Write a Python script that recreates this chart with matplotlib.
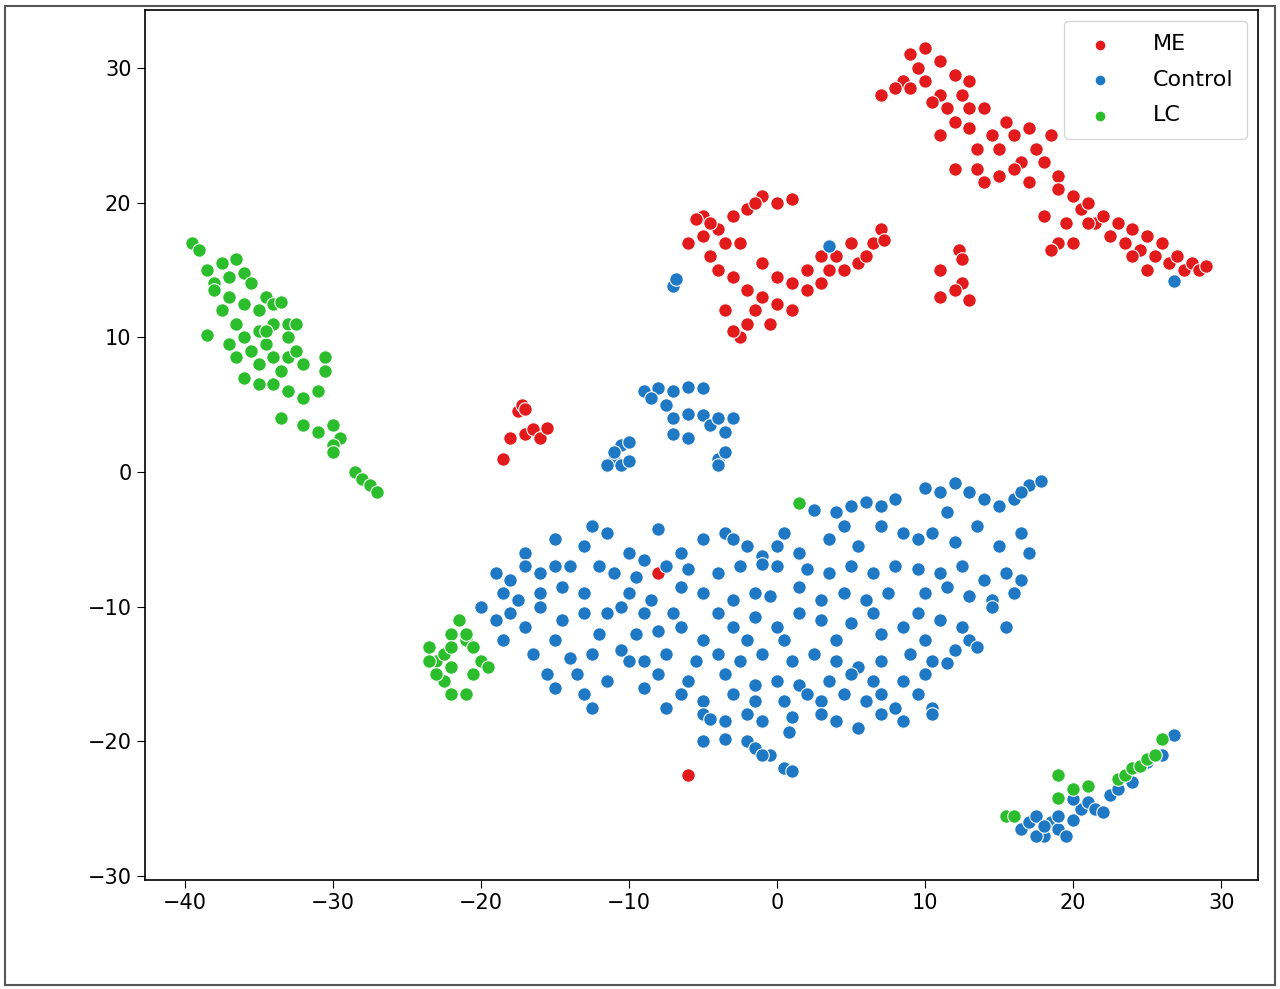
import matplotlib.pyplot as plt
import numpy as np

# cluster points, per group
me_pts = [
    (9,31),(10,31.5),(11,30.5),(9.5,30),(8.5,29),(7,28),(8,28.5),(10,29),(11,28),(12,29.5),(12.5,28),(13,27),
    (11.5,27),(12,26),(13,25.5),(14,27),(14.5,25),(13.5,24),(15,24),(15.5,26),(16,25),(16.5,23),(17,25.5),
    (17.5,24),(18,23),(18.5,25),(19,22),(16,22.5),(15,22),(14,21.5),(12,22.5),(17,21.5),(19,21),(20,20.5),
    (20.5,19.5),(21,20),(21.5,18.5),(22,19),(22.5,17.5),(23,18.5),(23.5,17),(24,18),(24.5,16.5),(25,17.5),
    (25.5,16),(26,17),(26.5,15.5),(27,16),(27.5,15),(28,15.5),(28.5,15),(29,15.3),(25,15),(24,16),(11,25),
    (10.5,27.5),(13,29),(9,28.5),(18,19),(19,17),(20,17),(18.5,16.5),(21,18.5),(19.5,18.5),(13.5,22.5),
    (-6,17),(-5,19),(-4,18),(-3,19),(-4.5,16),(-5,17.5),(-3.5,17),(-4,15),(-3,14.5),(-2,19.5),(-1,20.5),
    (0,20),(1,20.3),(-1.5,20),(-2.5,17),(-1,15.5),(0,14.5),(-2,13.5),(-1,13),(0,12.5),(-2,11),(-2.5,10),
    (-3,10.5),(-3.5,12),(-1.5,12),(-0.5,11),(1,12),(1,14),(2,15),(3,14),(3.5,15),(4,16),(5,17),(5.5,15.5),
    (6,16),(6.5,17),(7,18),(7.2,17.2),(4.5,15),(3,16),(2,13.5),(11,15),(12.3,16.5),(12.5,14),(11,13),
    (12,13.5),(13,12.8),(12.5,15.8),(-4.5,18.5),(-5.5,18.8),
    (-18.5,1),(-18,2.5),(-17.5,4.5),(-17.2,5),(-17,2.8),(-16.5,3.2),(-16,2.5),(-15.5,3.3),(-17,4.7),
    (-8,-7.5),(-6,-22.5),(18.5,16.5),
]

control_pts = [
    (-9,6),(-8,6.2),(-7,6),(-6,6.3),(-5,6.2),(-8.5,5.5),(-7.5,5),(-7,4),(-6,4.3),(-5,4.2),(-4.5,3.5),(-4,4),
    (-3.5,3),(-3,4),(-7,2.8),(-6,2.5),(-4,1),(-3.5,1.5),(-4,0.5),(-11,1),(-10.5,2),(-10,2.2),(-11.5,0.5),
    (-10.5,0.5),(-10,0.8),(-11,1.5),(-7,13.8),(-6.8,14.3),(3.5,16.8),(26.8,14.2),
    (16.5,-26.5),(17,-26),(17.5,-25.5),(18,-27),(18.5,-26),(19,-26.5),(19.5,-27),(19,-25.5),(20,-25.8),
    (20.5,-25),(21,-24.5),(21.5,-25),(22,-25.2),(20,-24.3),(22.5,-24),(23,-23.5),(24,-23),(25,-21.5),
    (26,-21),(26.8,-19.5),(17.5,-27),(18,-26.3),
    (10,-1.2),(11,-1.5),(12,-0.8),(13,-1.5),(14,-2),(15,-2.5),(16,-2),(17,-1),(17.8,-0.7),(16.5,-1.5),
    (8,-2),(6,-2.2),(5,-2.5),(4,-3),(2.5,-2.8),(7,-2.5),(11.5,-3),
    (-12.5,-4),(-11.5,-4.5),(-8,-4.2),(-5,-5),(-3.5,-4.5),(-3,-5),(0.5,-4.5),(0,-5.5),(1.5,-6),(3.5,-5),
    (4.5,-4),(5.5,-5.5),(7,-4),(8.5,-4.5),(9.5,-5),(10.5,-4.5),(12,-5.2),(13.5,-4),(15,-5.5),(16.5,-4.5),
    (17,-6),(-15,-5),(-17,-6),(-13,-5.5),(-10,-6),(-9,-6.5),(-6.5,-6),(-1,-6.2),(-2,-5.5),
    (-19,-7.5),(-18,-8),(-17,-7),(-16,-7.5),(-15,-7),(-14,-7),(-12,-7),(-11,-7.5),(-9.5,-7.8),(-7.5,-7),
    (-6,-7.2),(-4,-7.5),(-2.5,-7),(-1,-6.8),(0,-7),(2,-7.2),(3.5,-7.5),(5,-7),(6.5,-7.5),(8,-7),(9.5,-7.2),
    (11,-7.5),(12.5,-7),(14,-8),(15.5,-7.5),(16.5,-8),(-18.5,-9),(-17.5,-9.5),(-16,-9),(-14.5,-8.5),
    (-13,-9),(-10,-9),(-8.5,-9.5),(-6.5,-8.5),(-5,-9),(-3,-9.5),(-1.5,-9),(-0.5,-9.2),(1.5,-8.5),(3,-9.5),
    (4.5,-9),(6,-9.5),(7.5,-9),(10,-9),(13,-9.2),(14.5,-9.5),(16,-9),(11.5,-8.5),
    (-20,-10),(-19,-11),(-18,-10.5),(-17,-11.5),(-16,-10),(-14.5,-11),(-13,-10.5),(-11.5,-10.5),
    (-10.5,-10),(-9,-10.5),(-7,-10.5),(-6.5,-11.5),(-4,-10.5),(-3,-11.5),(-1.5,-10.8),(0,-11.5),
    (1.5,-10.5),(3,-11),(5,-11.2),(6.5,-10.5),(8.5,-11.5),(9.5,-10.5),(11,-11),(12.5,-11.5),(14.5,-10),
    (15.5,-11.5),(-18.5,-12.5),(-15,-12.5),(-12,-12),(-9.5,-12),(-5,-12.5),(-2,-12.5),(0.5,-12.5),
    (4,-12.5),(7,-12),(10,-12.5),(13,-12.5),(-8,-11.8),
    (-16.5,-13.5),(-14,-13.8),(-12.5,-13.5),(-10.5,-13.2),(-9,-14),(-7.5,-13.5),(-5.5,-14),(-4,-13.5),
    (-2.5,-14),(-1,-13.5),(1,-14),(2.5,-13.5),(4,-14),(5.5,-14.5),(7,-14),(9,-13.5),(10.5,-14),(12,-13.2),
    (13.5,-13),(-15.5,-15),(-13.5,-15),(-11.5,-15.5),(-8,-15),(-6,-15.5),(-3.5,-15),(-1.5,-15.8),
    (0,-15.5),(1.5,-15.8),(3.5,-15.5),(5,-15),(6.5,-15.5),(8.5,-15.5),(10,-15),(11.5,-14.2),(-10,-14),
    (-15,-16),(-13,-16.5),(-9,-16),(-6.5,-16.5),(-5,-17),(-3,-16.5),(-1.5,-17),(0.5,-17),(2,-16.5),
    (3,-17),(4.5,-16.5),(6,-17),(7,-16.5),(8,-17.5),(9.5,-16.5),(10.5,-17.5),(-12.5,-17.5),(-7.5,-17.5),
    (-5,-18),(-3.5,-18.5),(-1,-18.5),(1,-18.2),(3,-18),(4,-18.5),(5.5,-19),(7,-18),(8.5,-18.5),
    (10.5,-18),(-4.5,-18.3),(-2,-18),
    (-3.5,-19.8),(-2,-20),(-1.5,-20.5),(-0.5,-21),(0.5,-22),(1,-22.2),(0.8,-19.3),(-5,-20),(-1,-21),
]

lc_pts = [
    (-39.5,17),(-39,16.5),(-38.5,15),(-38,14),(-37.5,15.5),(-37,14.5),(-36.5,15.8),(-36,14.8),(-35.5,14),
    (-37,13),(-36,12.5),(-35,12),(-34.5,13),(-34,12.5),(-33.5,12.6),(-33,11),(-32.5,11),(-34,11),
    (-35,10.5),(-36,10),(-36.5,11),(-37,9.5),(-38.5,10.2),(-35.5,9),(-34.5,9.5),(-34,8.5),(-33,8.5),
    (-32.5,9),(-32,8),(-33.5,7.5),(-35,8),(-36,7),(-35,6.5),(-34,6.5),(-33,6),(-32,5.5),(-31,6),
    (-30.5,8.5),(-30.5,7.5),(-33.5,4),(-32,3.5),(-31,3),(-30,3.5),(-29.5,2.5),(-30,2),(-30,1.5),
    (-28.5,0),(-28,-0.5),(-27.5,-1),(-27,-1.5),(-36.5,8.5),(-37.5,12),(-38,13.5),(-34.5,10.5),(-33,10),
    (-23.5,-13),(-23,-14),(-22.5,-13.5),(-22,-12),(-21.5,-11),(-21,-12.5),(-20.5,-13),(-20,-14),
    (-19.5,-14.5),(-20.5,-15),(-22,-14.5),(-22.5,-15.5),(-22,-16.5),(-21,-16.5),(-23,-15),(-23.5,-14),
    (-21,-12),(-22,-13),
    (15.5,-25.5),(16,-25.5),(19,-22.5),(19,-24.2),(20,-23.5),(21,-23.3),(23,-22.8),(23.5,-22.5),
    (24,-22),(24.5,-21.8),(25,-21.3),(25.5,-21),(26,-19.8),(1.5,-2.3),
]

groups = ["ME", "Control", "LC"]
colors = ["#e31a1c", "#1f78c4", "#2cbd2c"]

fig = plt.figure(figsize=(12.8, 9.89), dpi=100)
ax = fig.add_axes([0.113, 0.11, 0.87, 0.88])

for name, pts, c in zip(groups, [me_pts, control_pts, lc_pts], colors):
    arr = np.array(pts)
    ax.scatter(arr[:, 0], arr[:, 1], s=95, color=c, edgecolor="white", linewidth=0.8, label=name)

ax.set_xlim(-42.7, 32.5)
ax.set_ylim(-30.3, 34.3)
ax.set_xticks(range(-40, 31, 10))
ax.set_yticks(range(-30, 31, 10))
ax.tick_params(labelsize=15, length=6)
for sp in ax.spines.values():
    sp.set_linewidth(1.2)

ax.legend(loc="upper right", fontsize=16, markerscale=0.8, handletextpad=1.4,
          labelspacing=0.7, borderpad=0.6)

fig.patches.append(plt.Rectangle((0.004, 0.004), 0.992, 0.99, transform=fig.transFigure,
                                 fill=False, edgecolor="#555555", linewidth=1.5))

fig.savefig("out.png", dpi=100)
